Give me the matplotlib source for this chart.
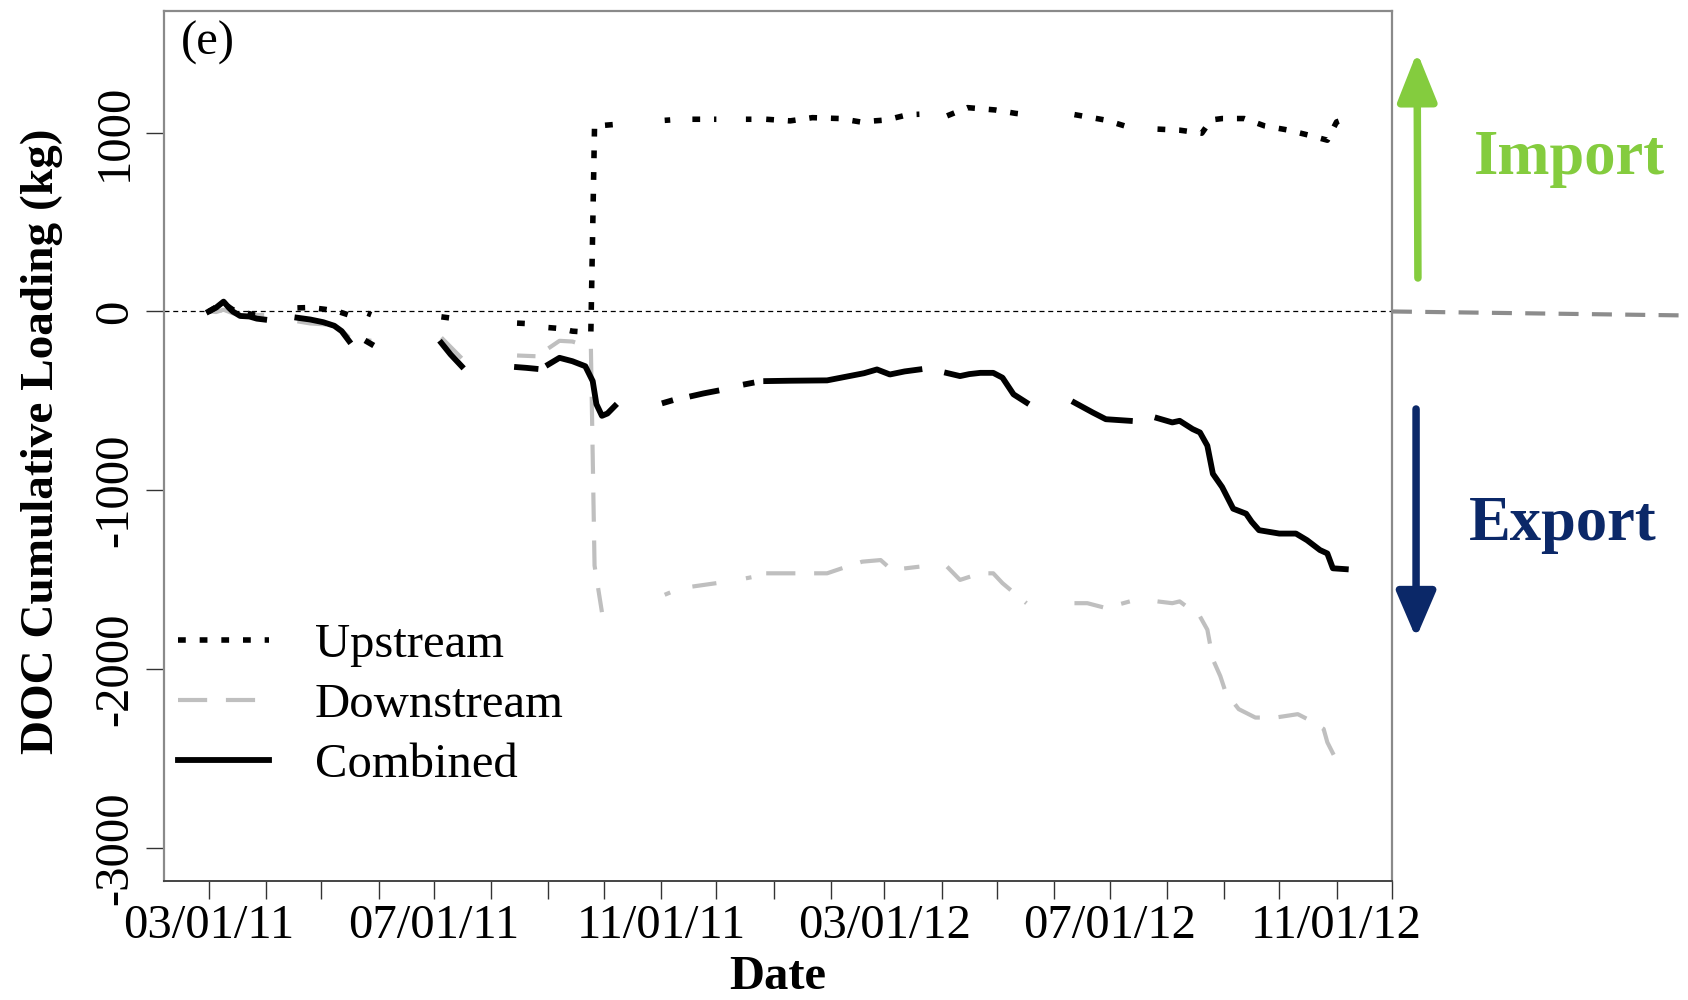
import matplotlib
matplotlib.use("Agg")
import matplotlib.pyplot as plt
import matplotlib.dates as mdates
import matplotlib.transforms as mtransforms
from matplotlib.lines import Line2D
import numpy as np
import pandas as pd

plt.rcParams['font.family'] = ['Liberation Serif', 'DejaVu Serif']
plt.rcParams['axes.unicode_minus'] = False

nan = np.nan

# cumulative DOC loading (kg); NaN marks gaps in the record
up_dates = [
    "2011-03-01", "2011-03-05", "2011-03-09", "2011-03-14", "2011-03-20", "2011-03-26", "2011-03-31",
    "2011-04-10",
    "2011-04-18", "2011-04-25", "2011-05-03", "2011-05-10", "2011-05-16",
    "2011-05-21",
    "2011-05-26", "2011-05-28",
    "2011-06-15",
    "2011-07-05", "2011-07-16",
    "2011-08-01",
    "2011-08-15", "2011-08-25",
    "2011-08-29",
    "2011-09-01", "2011-09-07", "2011-09-14", "2011-09-21", "2011-09-24", "2011-09-26", "2011-10-01", "2011-10-07",
    "2011-10-20",
    "2011-11-03", "2011-11-06",
    "2011-11-12",
    "2011-11-18", "2011-12-01",
    "2011-12-08",
    "2011-12-17", "2011-12-20",
    "2011-12-24",
    "2011-12-28", "2012-01-10", "2012-01-22", "2012-02-06", "2012-02-17", "2012-03-02", "2012-03-14", "2012-03-20",
    "2012-03-27",
    "2012-04-04", "2012-04-15", "2012-04-30", "2012-05-11", "2012-05-17",
    "2012-06-01",
    "2012-06-12", "2012-06-29", "2012-07-12",
    "2012-07-18",
    "2012-07-27", "2012-08-08", "2012-08-20", "2012-08-25", "2012-08-31", "2012-09-12", "2012-09-23",
    "2012-10-05", "2012-10-17", "2012-10-27", "2012-11-01", "2012-11-06",
]
up_kg = [
    0, 25, 45, 10, -5, -20, -25,
    nan,
    20, 22, 12, 0, -20,
    nan,
    -10, -18,
    nan,
    -30, -45,
    nan,
    -65, -70,
    nan,
    -90, -95, -110, -115, -115, 1040, 1040, 1045,
    nan,
    1068, 1070,
    nan,
    1074, 1074,
    nan,
    1074, 1074,
    nan,
    1074, 1065, 1083, 1078, 1059, 1070, 1100, 1102,
    nan,
    1093, 1139, 1126, 1107, 1100,
    nan,
    1100, 1069, 1028,
    nan,
    1019, 1013, 996, 1070, 1078, 1078, 1037,
    1015, 985, 957, 1059, 1078,
]

down_dates = [
    "2011-03-01", "2011-03-05", "2011-03-09", "2011-03-14", "2011-03-20", "2011-03-26", "2011-03-31",
    "2011-04-10",
    "2011-04-18", "2011-04-25", "2011-05-03", "2011-05-10", "2011-05-16",
    "2011-05-21",
    "2011-05-26", "2011-05-28",
    "2011-06-15",
    "2011-07-05", "2011-07-16",
    "2011-08-01",
    "2011-08-15", "2011-08-25",
    "2011-08-29",
    "2011-09-01", "2011-09-07", "2011-09-14", "2011-09-21", "2011-09-24", "2011-09-26", "2011-09-30",
    "2011-10-20",
    "2011-11-03", "2011-11-06",
    "2011-11-12",
    "2011-11-18", "2011-12-01",
    "2011-12-08",
    "2011-12-17", "2011-12-20",
    "2011-12-24",
    "2011-12-28", "2012-01-10", "2012-01-22", "2012-01-30", "2012-02-07", "2012-02-18", "2012-02-28",
    "2012-03-05", "2012-03-20",
    "2012-03-27",
    "2012-04-04", "2012-04-11", "2012-04-22", "2012-04-29", "2012-05-04", "2012-05-10", "2012-05-17",
    "2012-06-01",
    "2012-06-12", "2012-06-19", "2012-06-29", "2012-07-12",
    "2012-07-18",
    "2012-07-27", "2012-08-04", "2012-08-08", "2012-08-19", "2012-08-23", "2012-08-26", "2012-08-30",
    "2012-09-02", "2012-09-09", "2012-09-18", "2012-09-29", "2012-10-11", "2012-10-18", "2012-10-25",
    "2012-10-27", "2012-11-01",
]
down_kg = [
    0, -3, 10, -10, -20, -20, -20,
    nan,
    -55, -67, -72, -85, -145,
    nan,
    -160, -164,
    nan,
    -146, -261,
    nan,
    -246, -250,
    nan,
    -206, -164, -168, -191, -195, -1420, -1680,
    nan,
    -1583, -1570,
    nan,
    -1537, -1518,
    nan,
    -1491, -1485,
    nan,
    -1463, -1463, -1463, -1463, -1435, -1398, -1389,
    -1444, -1426,
    nan,
    -1426, -1500, -1463, -1463, -1518, -1570, -1630,
    nan,
    -1630, -1630, -1657, -1620,
    nan,
    -1620, -1630, -1620, -1704, -1778, -1944, -2037,
    -2130, -2222, -2269, -2269, -2250, -2287, -2333,
    -2407, -2509,
]

comb_dates = [
    "2011-03-01", "2011-03-05", "2011-03-09", "2011-03-12", "2011-03-14", "2011-03-18", "2011-03-23",
    "2011-03-27", "2011-03-31",
    "2011-04-10",
    "2011-04-18", "2011-04-25", "2011-05-02", "2011-05-08", "2011-05-12", "2011-05-16",
    "2011-05-21",
    "2011-05-26", "2011-05-28",
    "2011-06-15",
    "2011-07-05", "2011-07-10", "2011-07-16",
    "2011-08-01",
    "2011-08-15", "2011-08-20", "2011-08-25",
    "2011-08-29",
    "2011-09-01", "2011-09-07", "2011-09-14", "2011-09-21", "2011-09-25", "2011-09-27", "2011-09-30",
    "2011-10-03", "2011-10-07",
    "2011-10-20",
    "2011-11-03", "2011-11-06",
    "2011-11-12",
    "2011-11-18", "2011-11-24", "2011-12-01",
    "2011-12-08",
    "2011-12-17", "2011-12-20",
    "2011-12-24",
    "2011-12-28", "2012-01-10", "2012-01-30", "2012-02-11", "2012-02-19", "2012-02-26", "2012-03-04",
    "2012-03-12", "2012-03-20",
    "2012-03-27",
    "2012-04-04", "2012-04-11", "2012-04-16", "2012-04-22", "2012-04-29", "2012-05-04", "2012-05-10",
    "2012-05-17",
    "2012-06-01",
    "2012-06-12", "2012-06-22", "2012-06-29", "2012-07-12",
    "2012-07-18",
    "2012-07-27", "2012-08-04", "2012-08-08", "2012-08-15", "2012-08-19", "2012-08-23", "2012-08-26",
    "2012-08-31", "2012-09-06", "2012-09-13", "2012-09-16", "2012-09-20", "2012-10-01", "2012-10-10",
    "2012-10-16", "2012-10-23", "2012-10-27", "2012-10-30", "2012-11-06",
]
comb_kg = [
    0, 22, 55, 20, 0, -25, -28,
    -40, -45,
    nan,
    -35, -45, -60, -80, -110, -165,
    nan,
    -170, -182,
    nan,
    -176, -240, -306,
    nan,
    -311, -315, -320,
    nan,
    -296, -259, -278, -306, -389, -518, -583,
    -570, -528,
    nan,
    -509, -500,
    nan,
    -472, -458, -444,
    nan,
    -406, -400,
    nan,
    -389, -387, -385, -361, -345, -324, -352,
    -335, -324,
    nan,
    -344, -361, -350, -343, -343, -370, -463,
    -509,
    nan,
    -509, -565, -602, -611,
    nan,
    -596, -620, -611, -657, -676, -750, -907,
    -981, -1102, -1130, -1175, -1222, -1241, -1241,
    -1278, -1333, -1352, -1435, -1440,
]

y_ticks = [1000, 0, -1000, -2000, -3000]
series_labels = ["Upstream", "Downstream", "Combined"]

up_t = pd.to_datetime(up_dates)
down_t = pd.to_datetime(down_dates)
comb_t = pd.to_datetime(comb_dates)

fig = plt.figure(figsize=(16.88, 10), dpi=100)
ax = fig.add_axes([0.0969, 0.1194, 0.7277, 0.8698])

up_style = dict(color="black", lw=4, dashes=(1.4, 2.5), dash_capstyle="butt")
down_style = dict(color="#bfbfbf", lw=3, dashes=(7, 4.5), dash_capstyle="butt")
comb_style = dict(color="black", lw=4.2, solid_joinstyle="round")

ax.axhline(0, color="black", lw=0.9, dashes=(4, 3))
ax.plot(down_t, down_kg, **down_style)
ax.plot(up_t, up_kg, **up_style)
ax.plot(comb_t, comb_kg, **comb_style)

ax.set_xlim(pd.Timestamp("2011-02-04 12:00"), pd.Timestamp("2012-12-01"))
ax.set_ylim(-3180, 1680)

ax.xaxis.set_major_locator(mdates.MonthLocator(bymonth=[3, 7, 11]))
ax.xaxis.set_major_formatter(mdates.DateFormatter("%m/%d/%y"))
ax.xaxis.set_minor_locator(mdates.MonthLocator())
ax.set_yticks(y_ticks)
ax.tick_params(which="both", direction="out", length=13, width=1, color="#333333")
ax.tick_params(axis="x", labelsize=35, pad=4)
ax.tick_params(axis="y", labelsize=35, pad=6, labelrotation=90)
for lab in ax.get_yticklabels():
    lab.set_verticalalignment("center")

for side in ["top", "right", "left"]:
    ax.spines[side].set_color("#8a8a8a")
    ax.spines[side].set_linewidth(1.6)
ax.spines["bottom"].set_color("#444444")
ax.spines["bottom"].set_linewidth(1.4)

ax.set_ylabel("DOC Cumulative Loading (kg)", fontsize=34, fontweight="bold")
ax.yaxis.set_label_coords(-0.082, 0.505)
ax.set_xlabel("Date", fontsize=35, fontweight="bold")
ax.xaxis.set_label_coords(0.5, -0.086)

ax.text(0.014, 0.963, "(e)", transform=ax.transAxes, fontsize=35, va="center", ha="left")

handles = [Line2D([], [], **up_style), Line2D([], [], **down_style), Line2D([], [], **comb_style)]
ax.legend(handles, series_labels, loc="upper left", bbox_to_anchor=(0.0117, 0.296),
          frameon=False, fontsize=35, handlelength=1.87, handletextpad=0.95,
          labelspacing=0.33, borderpad=0, borderaxespad=0)

# zero reference carried past the frame, with import/export arrows
blend = mtransforms.blended_transform_factory(ax.transAxes, ax.transData)
ax.plot([1.0, 1.237], [0, -22], transform=blend, clip_on=False,
        color="#8c8c8c", lw=3, dashes=(4.8, 3.2))

ax.annotate("", xy=(0.8395, 0.948), xytext=(0.8400, 0.722), xycoords="figure fraction",
            textcoords="figure fraction",
            arrowprops=dict(arrowstyle="-|>,head_length=1.5,head_width=0.6", lw=5.4,
                            color="#84cc3e", mutation_scale=20, shrinkA=0, shrinkB=0))
ax.annotate("", xy=(0.8389, 0.362), xytext=(0.8389, 0.591), xycoords="figure fraction",
            textcoords="figure fraction",
            arrowprops=dict(arrowstyle="-|>,head_length=1.4,head_width=0.6", lw=5.4,
                            color="#0b2868", mutation_scale=20, shrinkA=0, shrinkB=0))
fig.text(0.930, 0.841, "Import", fontsize=45, fontweight="bold", color="#84cc3e",
         ha="center", va="center")
fig.text(0.926, 0.475, "Export", fontsize=45, fontweight="bold", color="#0b2868",
         ha="center", va="center")

fig.savefig("out.png", dpi=100)
